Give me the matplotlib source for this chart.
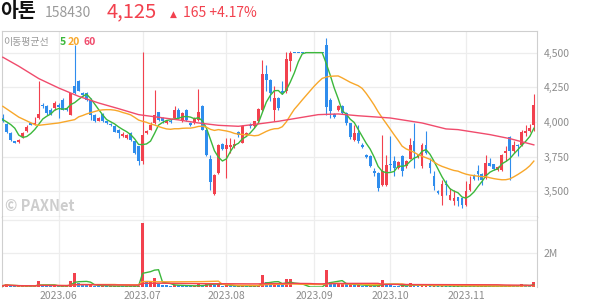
import matplotlib.pyplot as plt
import pandas as pd

plt.rcParams['font.family'] = ['Noto Sans CJK KR', 'DejaVu Sans']

# 일봉 (2023.05.11 ~ 2023.11.24, 거래일 순)
opens = [4029, 3985, 3921, 3861, 3855, 3890, 3935, 3990, 3982, 4029,
         4125, 4113, 4089, 4100, 4125, 4161, 4101, 4053, 4257, 4293,
         4209, 4209, 4161, 4053, 4010, 4060, 4005, 3985, 3969, 3945,
         3897, 3885, 3921, 3861, 3825, 3717, 3921, 3945, 3993, 4070,
         4029, 3990, 4010, 4029, 4089, 4010, 4089, 3993, 3993, 4017,
         4113, 3945, 3736, 3481, 3632, 3842, 3808, 3818, 3825, 3925,
         3849, 3909, 3981, 3969, 4005, 4089, 4346, 4300, 4089, 4173,
         4226, 4221, 4443, 4500, 4500, 4500, 4500, 4500, 4500, 4500,
         4500, 4556, 4161, 4060, 4089, 4113, 4065, 3993, 3871, 3921,
         3837, 3760, 3753, 3650, 3632, 3548, 3548, 3697, 3722, 3668,
         3753, 3680, 3736, 3861, 3745, 3680, 3837, 3705, 3608, 3505,
         3464, 3555, 3440, 3428, 3457, 3452, 3404, 3512, 3620, 3650,
         3625, 3596, 3705, 3697, 3656, 3656, 3777, 3892, 3789, 3837,
         3837, 3921, 3938, 3981]
highs = [4060, 3990, 3925, 3865, 3875, 3925, 3975, 3995, 4035, 4293,
         4137, 4125, 4100, 4150, 4135, 4170, 4110, 4210, 4553, 4300,
         4215, 4215, 4170, 4060, 4035, 4065, 4010, 3990, 3975, 3950,
         3925, 3915, 3925, 3865, 3830, 4505, 3940, 4000, 4233, 4075,
         4035, 4010, 4020, 4113, 4100, 4070, 4095, 4000, 4035, 4240,
         4120, 3950, 3760, 3625, 3840, 3850, 3885, 3885, 3880, 3935,
         3975, 3930, 3990, 4010, 4100, 4450, 4410, 4310, 4257, 4180,
         4298, 4505, 4515, 4500, 4500, 4500, 4500, 4500, 4500, 4500,
         4500, 4606, 4170, 4065, 4120, 4120, 4070, 3995, 3975, 3981,
         3845, 3770, 3760, 3668, 3640, 3909, 3765, 3897, 3753, 3720,
         3760, 3725, 3885, 3993, 3770, 3849, 3933, 3740, 3644, 3510,
         3584, 3584, 3524, 3512, 3460, 3460, 3572, 3608, 3625, 3692,
         3630, 3765, 3740, 3700, 3680, 3770, 3825, 3900, 3860, 3840,
         3945, 3981, 3986, 4202]
lows = [4000, 3920, 3865, 3845, 3850, 3885, 3930, 3975, 3978, 4020,
        4100, 4050, 4050, 4090, 4030, 4085, 4080, 4050, 4200, 4220,
        4190, 4150, 4017, 4000, 4005, 4000, 3985, 3970, 3925, 3885,
        3890, 3875, 3865, 3770, 3693, 3700, 3910, 3940, 3985, 4010,
        3995, 3985, 3990, 4020, 4020, 4000, 4010, 3970, 3985, 4010,
        3940, 3755, 3510, 3475, 3625, 3800, 3596, 3780, 3815, 3890,
        3845, 3900, 3960, 3960, 3995, 4080, 4221, 4150, 4010, 4090,
        4200, 4210, 4366, 4500, 4500, 4500, 4500, 4500, 4500, 4500,
        4500, 4053, 4029, 4030, 4080, 4060, 3980, 3880, 3860, 3850,
        3810, 3740, 3675, 3608, 3500, 3540, 3540, 3644, 3608, 3660,
        3608, 3670, 3730, 3668, 3740, 3670, 3770, 3632, 3512, 3480,
        3404, 3476, 3435, 3404, 3392, 3380, 3392, 3505, 3585, 3584,
        3548, 3590, 3680, 3655, 3650, 3650, 3717, 3584, 3776, 3753,
        3830, 3897, 3930, 3938]
closes = [4005, 3930, 3873, 3849, 3870, 3920, 3965, 3980, 3995, 4055,
          4113, 4065, 4060, 4137, 4110, 4089, 4085, 4206, 4209, 4227,
          4197, 4161, 4053, 4010, 4029, 4005, 3990, 3976, 3930, 3921,
          3915, 3909, 3873, 3777, 3717, 3909, 3933, 3975, 4053, 4017,
          4005, 4005, 4000, 4089, 4029, 4065, 4017, 3976, 4029, 4070,
          3945, 3760, 3570, 3620, 3836, 3808, 3836, 3836, 3842, 3909,
          3969, 3921, 3969, 4005, 4094, 4346, 4305, 4210, 4173, 4101,
          4209, 4457, 4500, 4500, 4500, 4500, 4500, 4500, 4500, 4500,
          4500, 4111, 4077, 4039, 4113, 4065, 3993, 3892, 3921, 3861,
          3818, 3745, 3680, 3632, 3524, 3644, 3692, 3688, 3668, 3712,
          3644, 3717, 3837, 3789, 3765, 3837, 3777, 3668, 3536, 3488,
          3555, 3543, 3471, 3452, 3428, 3404, 3500, 3555, 3590, 3625,
          3584, 3705, 3685, 3664, 3673, 3765, 3789, 3789, 3832, 3825,
          3926, 3938, 3960, 4125]
# 거래량 (백만 주)
volumes = [0.08, 0.16, 0.06, 0.05, 0.05, 0.06, 0.07, 0.05, 0.06, 0.36,
           0.10, 0.07, 0.05, 0.06, 0.05, 0.06, 0.07, 0.36, 0.84, 0.25,
           0.12, 0.10, 0.12, 0.08, 0.06, 0.07, 0.05, 0.05, 0.06, 0.06,
           0.05, 0.05, 0.05, 0.06, 0.08, 3.83, 0.30, 0.30, 0.52, 0.20,
           0.12, 0.10, 0.08, 0.14, 0.10, 0.08, 0.07, 0.05, 0.05, 0.15,
           0.10, 0.20, 0.26, 0.14, 0.16, 0.06, 0.10, 0.06, 0.05, 0.05,
           0.12, 0.05, 0.05, 0.06, 0.10, 0.70, 0.30, 0.20, 0.25, 0.15,
           0.12, 0.46, 0.46, 0, 0, 0, 0, 0, 0, 0,
           0, 1.00, 0.30, 0.20, 0.20, 0.20, 0.15, 0.15, 0.10, 0.12,
           0.08, 0.06, 0.08, 0.06, 0.10, 0.40, 0.15, 0.10, 0.08, 0.06,
           0.07, 0.05, 0.24, 0.12, 0.06, 0.10, 0.10, 0.06, 0.07, 0.05,
           0.08, 0.06, 0.05, 0.05, 0.05, 0.06, 0.07, 0.06, 0.05, 0.05,
           0.05, 0.08, 0.05, 0.05, 0.04, 0.08, 0.06, 0.12, 0.07, 0.05,
           0.16, 0.08, 0.07, 0.30]

# 이동평균선 시작 구간
ma5_head = [4017, 4000, 3981, 3955]
ma20_head_idx = [0, 4, 8, 9, 14, 18]
ma20_head = [4113, 4035, 3981, 3976, 3993, 4017]
ma60_idx = [0, 4, 9, 14, 19, 24, 29, 34, 39, 44, 49, 54, 59, 64, 69, 74,
            79, 84, 89, 97, 105, 111, 114, 122, 127, 133]
ma60 = [4467, 4402, 4313, 4245, 4185, 4137, 4096, 4053, 4034, 4015, 3993,
        3976, 3969, 3986, 4005, 4029, 4053, 4058, 4045, 4029, 3993, 3950,
        3945, 3909, 3880, 3835]

month_idx = [14, 35, 56, 78, 97, 116]
month_labels = ['2023.06', '2023.07', '2023.08', '2023.09', '2023.10', '2023.11']
price_ticks = [3500, 3750, 4000, 4250, 4500]

RED = '#f2414e'
BLUE = '#2f8ded'
GREEN = '#3cb83c'
ORANGE = '#f8a72a'
PINK = '#f04b6c'
GRID = '#ededed'

n = len(closes)
x = list(range(n))

cols = []
for i in x:
    if closes[i] > opens[i]:
        cols.append(RED)
    elif closes[i] < opens[i]:
        cols.append(BLUE)
    else:
        cols.append(RED if i > 0 and closes[i] > closes[i - 1] else BLUE)

fig = plt.figure(figsize=(5.94, 3.04), dpi=100)
ax = fig.add_axes([0.0034, 0.2862, 0.9007, 0.6118])
axv = fig.add_axes([0.0034, 0.0559, 0.9007, 0.2303])

# 캔들
bottoms = [min(o, c) for o, c in zip(opens, closes)]
heights = [max(abs(c - o), 7) for o, c in zip(opens, closes)]
ax.vlines(x, lows, highs, colors=cols, lw=0.8, zorder=3)
ax.bar(x, heights, bottom=bottoms, width=0.72, color=cols, zorder=4)

# 이동평균선
s = pd.Series(closes)
ma5 = s.rolling(5).mean()
ma20 = s.rolling(20).mean()
ax.plot(list(range(4)) + x[4:], ma5_head + list(ma5[4:]), color=GREEN, lw=1.0, zorder=5)
ax.plot(ma20_head_idx + x[19:], ma20_head + list(ma20[19:]), color=ORANGE, lw=1.0, zorder=5)
ax.plot(ma60_idx, ma60, color=PINK, lw=1.0, zorder=5)

ax.set_xlim(-0.2, 133.8)
ax.set_ylim(3315, 4656)
ax.set_yticks(price_ticks)
ax.set_yticklabels([f'{p:,}' for p in price_ticks])
ax.yaxis.tick_right()
ax.tick_params(axis='y', length=0, pad=5, labelsize=7.5, labelcolor='#8c8c8c')
ax.set_xticks(month_idx)
ax.tick_params(axis='x', length=0, labelbottom=False)
ax.grid(True, color=GRID, lw=0.9, zorder=0)
for side in ['left', 'top', 'right']:
    ax.spines[side].set_color('#cfcfcf')
ax.spines['bottom'].set_color('#4a4a4a')

# 거래량
vcols = [RED if i == 0 or volumes[i] >= volumes[i - 1] else BLUE for i in x]
axv.bar(x, volumes, width=0.72, color=vcols, zorder=3)
v = pd.Series(volumes)
axv.plot(x, v.rolling(5, min_periods=1).mean(), color=GREEN, lw=1.0, zorder=4)
axv.plot(x, v.rolling(20, min_periods=1).mean(), color=ORANGE, lw=1.0, zorder=4)
axv.plot(x, v.rolling(60, min_periods=1).mean(), color=RED, lw=1.0, zorder=4)
axv.set_xlim(-0.2, 133.8)
axv.set_ylim(0, 4.17)
axv.set_yticks([2, 4])
axv.set_yticklabels(['2M', ''])
axv.yaxis.tick_right()
axv.tick_params(axis='y', length=0, pad=5, labelsize=7.5, labelcolor='#8c8c8c')
axv.set_xticks(month_idx)
axv.set_xticklabels(month_labels)
axv.tick_params(axis='x', length=0, pad=3, labelsize=7.5, labelcolor='#8c8c8c')
axv.grid(True, color=GRID, lw=0.9, zorder=0)
axv.spines['top'].set_visible(False)
axv.spines['bottom'].set_visible(False)
for side in ['left', 'right']:
    axv.spines[side].set_color('#cfcfcf')

# 제목
fig.text(0.0, 0.944, '아톤', fontsize=14, fontweight='bold', color='#111111', va='baseline')
fig.text(0.076, 0.944, '158430', fontsize=10, color='#9a9a9a', va='baseline')
fig.text(0.179, 0.944, '4,125', fontsize=14.5, color=RED, va='baseline')
fig.text(0.286, 0.944, '▲', fontsize=6.5, color=RED, va='baseline', family='DejaVu Sans')
fig.text(0.308, 0.944, '165 +4.17%', fontsize=10, color=RED, va='baseline')

# 범례
fig.text(0.005, 0.863, '이동평균선', fontsize=7.2, color='#9a9a9a', va='center')
fig.text(0.100, 0.863, '5', fontsize=7.5, color=GREEN, va='center', fontweight='bold')
fig.text(0.114, 0.863, '20', fontsize=7.5, color=ORANGE, va='center', fontweight='bold')
fig.text(0.140, 0.863, '60', fontsize=7.5, color=PINK, va='center', fontweight='bold')

fig.text(0.009, 0.322, '© PAXNet', fontsize=10.5, color='#cdcdcd', fontweight='bold', va='center')

fig.savefig('out.png', dpi=100)
